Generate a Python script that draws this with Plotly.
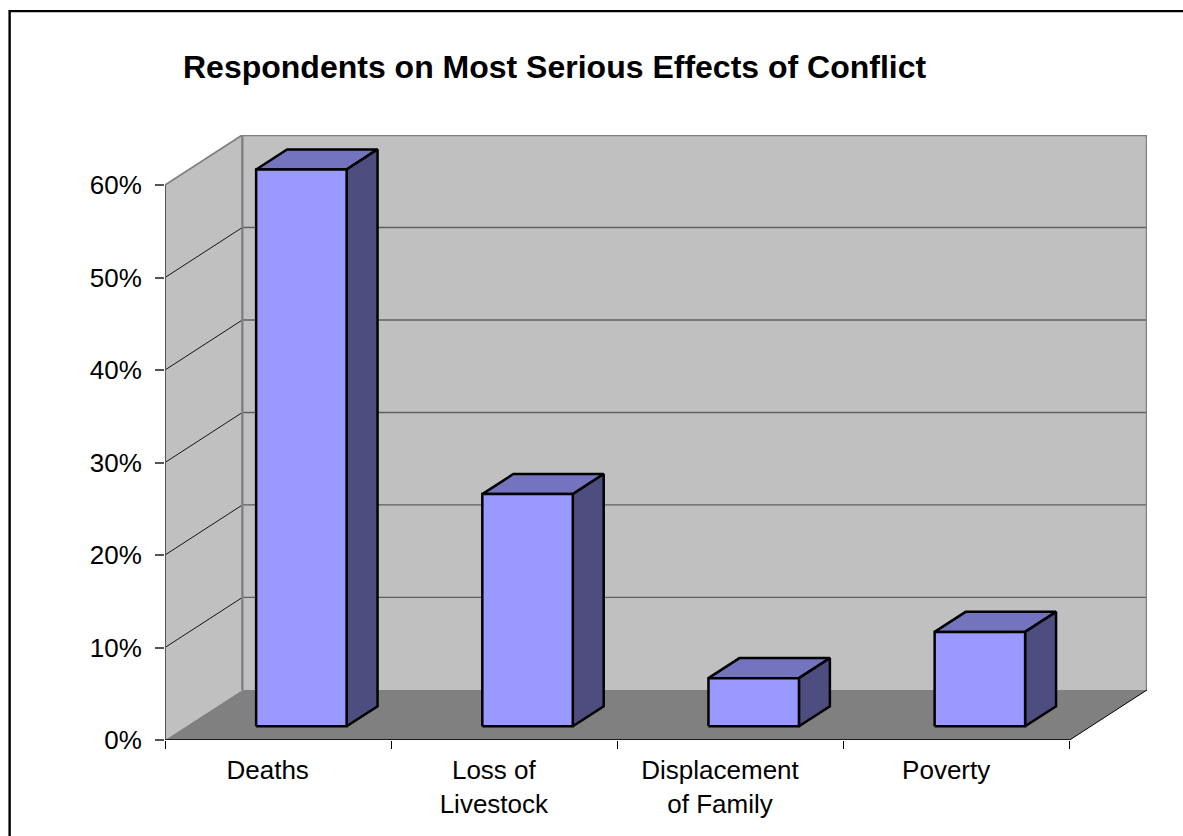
import plotly.graph_objects as go

# Survey results, percent of respondents
categories = ["Deaths", "Loss of<br>Livestock", "Displacement<br>of Family", "Poverty"]
shares = [60.2, 25.1, 5.2, 10.2]
y_ticks = [0, 10, 20, 30, 40, 50, 60]
title_text = "Respondents on Most Serious Effects of Conflict"

FONT = "Liberation Sans, Arial, sans-serif"
WIDTH, HEIGHT = 1183, 836

# Pixel extents of the front plane of the chart box
FRONT_L, FRONT_R, FRONT_T, FRONT_B = 165.3, 1069.5, 185.3, 739.7
DEPTH_PX_X, DEPTH_PX_Y = 77.3, 50.0

N = len(categories)
Y_MAX = max(y_ticks)

# Oblique projection: one full unit of depth shifts a point right and up
DEPTH_X = DEPTH_PX_X / ((FRONT_R - FRONT_L) / N)
DEPTH_Y = DEPTH_PX_Y / ((FRONT_B - FRONT_T) / Y_MAX)
BAR_WIDTH = 0.4
BAR_SHIFT = 0.103
BAR_FRONT = 0.275
BAR_BACK = 0.675

# The plot area also holds the receding walls, so it reaches past the front plane
PLOT_L, PLOT_R = FRONT_L, FRONT_R + DEPTH_PX_X
PLOT_T, PLOT_B = FRONT_T - DEPTH_PX_Y, FRONT_B


def project(x, y, depth=0.0):
    return x + depth * DEPTH_X, y + depth * DEPTH_Y


def polygon(corners, fill, line_color="rgba(0,0,0,0)", line_width=0):
    pts = [project(*c) for c in corners] + [project(*corners[0])]
    return go.Scatter(
        x=[p[0] for p in pts], y=[p[1] for p in pts],
        mode="lines", fill="toself", fillcolor=fill,
        line=dict(color=line_color, width=line_width, simplify=False),
        cliponaxis=False, hoverinfo="skip", showlegend=False,
    )


def segment(corners, color, width):
    pts = [project(*c) for c in corners]
    return go.Scatter(
        x=[p[0] for p in pts], y=[p[1] for p in pts],
        mode="lines", line=dict(color=color, width=width),
        cliponaxis=False, hoverinfo="skip", showlegend=False,
    )


fig = go.Figure()

# Walls
fig.add_trace(polygon([(0, 0, 0), (0, Y_MAX, 0), (0, Y_MAX, 1), (0, 0, 1)], "#C0C0C0"))
fig.add_trace(polygon([(0, 0, 1), (0, Y_MAX, 1), (N, Y_MAX, 1), (N, 0, 1)], "#C0C0C0"))

# Gridlines across the back wall and along the side wall
for v in y_ticks[1:-1]:
    fig.add_trace(segment([(0, v, 1), (N, v, 1)], "#5F5F5F", 1.3))
    fig.add_trace(segment([(0, v, 0), (0, v, 1)], "#000000", 0.9))

fig.add_trace(segment([(0, Y_MAX, 0), (0, Y_MAX, 1)], "#808080", 1.8))
fig.add_trace(segment([(0, 0, 1), (0, Y_MAX, 1), (N, Y_MAX, 1), (N, 0, 1)], "#808080", 2.4))

# Floor
fig.add_trace(polygon([(0, 0, 0), (N, 0, 0), (N, 0, 1), (0, 0, 1)], "#808080"))
fig.add_trace(segment([(N, 0, 0), (N, 0, 1)], "#000000", 1))

# Bars: top, right-hand and front faces, set back from the front plane
for i, value in enumerate(shares):
    x0 = i + 0.5 + BAR_SHIFT - BAR_WIDTH / 2 - BAR_FRONT * DEPTH_X
    x1 = x0 + BAR_WIDTH
    fig.add_trace(polygon([(x0, value, BAR_FRONT), (x1, value, BAR_FRONT),
                           (x1, value, BAR_BACK), (x0, value, BAR_BACK)],
                          "#7373BE", "#000000", 2.5))
    fig.add_trace(polygon([(x1, 0, BAR_FRONT), (x1, value, BAR_FRONT),
                           (x1, value, BAR_BACK), (x1, 0, BAR_BACK)],
                          "#4D4D80", "#000000", 2.5))
    fig.add_trace(polygon([(x0, 0, BAR_FRONT), (x1, 0, BAR_FRONT),
                           (x1, value, BAR_FRONT), (x0, value, BAR_FRONT)],
                          "#9999FF", "#000000", 2.5))

# Axis lines along the front plane
fig.add_trace(segment([(0, 0, 0), (0, Y_MAX, 0)], "#555555", 2))
fig.add_trace(segment([(0, 0, 0), (N, 0, 0)], "#1A1A1A", 2))


def page_x(px):
    return (px - PLOT_L) / (PLOT_R - PLOT_L)


def page_y(py):
    return (PLOT_B - py) / (PLOT_B - PLOT_T)


fig.update_layout(
    width=WIDTH, height=HEIGHT,
    margin=dict(l=PLOT_L, r=WIDTH - PLOT_R, t=PLOT_T, b=HEIGHT - PLOT_B, pad=0, autoexpand=False),
    paper_bgcolor="white", plot_bgcolor="rgba(0,0,0,0)",
    font=dict(family=FONT, size=26, color="black"),
    showlegend=False,
    title=dict(
        text=f"<b>{title_text}</b>", font=dict(family=FONT, size=32, color="black"),
        x=183 / WIDTH, xanchor="left", xref="container",
        y=1 - 67 / HEIGHT, yanchor="middle", yref="container",
    ),
    xaxis=dict(
        range=[0, N + DEPTH_X], tickmode="array",
        tickvals=[i + 0.454 for i in range(N)], ticktext=categories,
        ticks="", showgrid=False, zeroline=False, showline=False,
        ticklabelstandoff=12,
        minor=dict(tickmode="array", tickvals=list(range(N + 1)), ticks="outside",
                   ticklen=8, tickwidth=1, tickcolor="#000000", showgrid=False),
    ),
    yaxis=dict(
        range=[0, Y_MAX + DEPTH_Y], tickmode="array", tickvals=y_ticks,
        ticktext=[f"{v}%" for v in y_ticks],
        ticks="outside", ticklen=9, tickwidth=1.5, tickcolor="#555555",
        showgrid=False, zeroline=False, showline=False,
        ticklabelstandoff=8,
    ),
    shapes=[dict(
        type="rect", xref="paper", yref="paper",
        x0=page_x(10), x1=page_x(WIDTH + 20), y0=page_y(HEIGHT + 20), y1=page_y(11.5),
        line=dict(color="#000000", width=2.4), fillcolor="rgba(0,0,0,0)", layer="below",
    )],
)

fig.write_html("out.html", config=dict(displayModeBar=False))
